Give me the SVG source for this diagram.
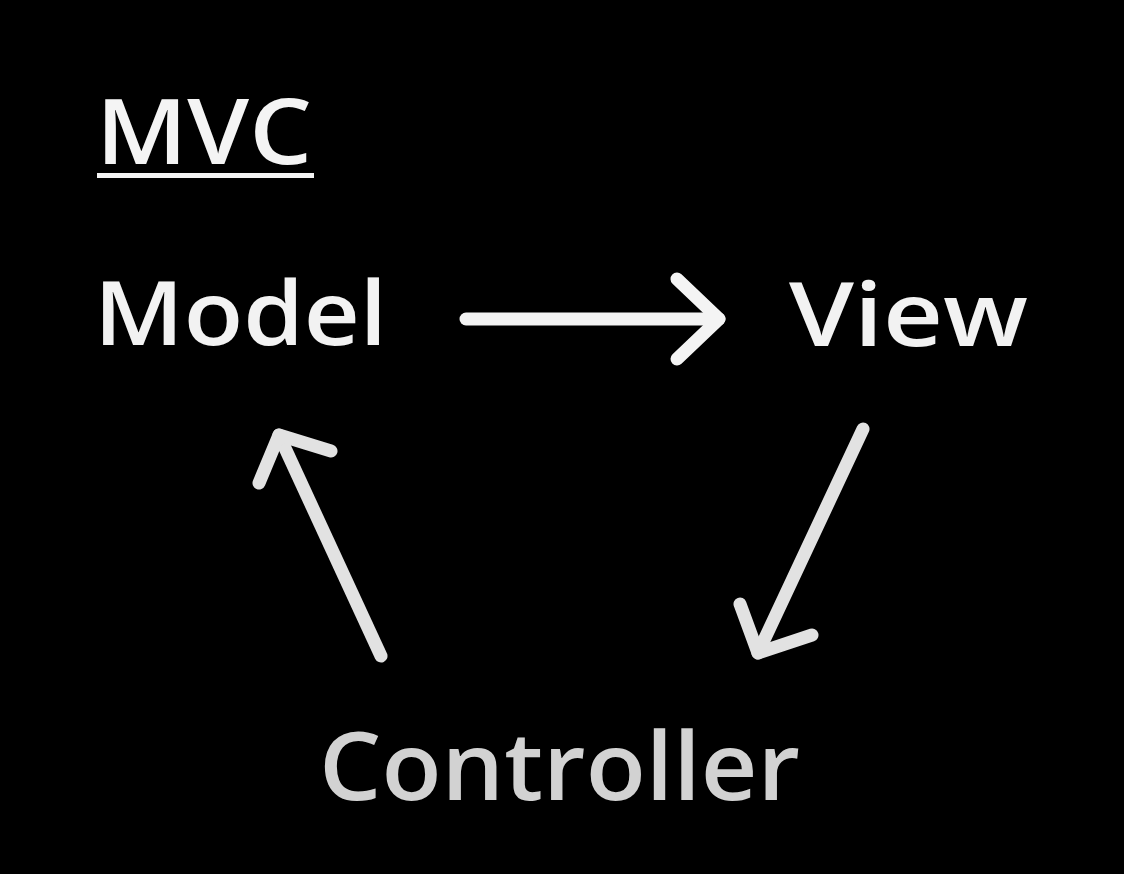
<svg xmlns="http://www.w3.org/2000/svg" width="1124" height="874" viewBox="0 0 1124 874">
<style>
.lbl{font-family:"Open Sans","Liberation Sans",sans-serif;font-weight:600;}
.arr{fill:none;stroke-width:13;stroke-linecap:round;stroke-linejoin:round;}
</style>
<rect x="0" y="0" width="1124" height="874" fill="#000"/>
<g id="title">
<text class="lbl" x="96" y="164" font-size="90" fill="#f4f4f4" textLength="216" lengthAdjust="spacingAndGlyphs">MVC</text>
<rect x="97" y="173" width="217" height="5" fill="#f4f4f4"/>
</g>
<g id="model">
<text class="lbl" x="94" y="345" font-size="88" fill="#f2f2f2" textLength="293" lengthAdjust="spacingAndGlyphs">Model</text>
</g>
<g id="view">
<text class="lbl" x="789" y="346" font-size="88" fill="#f2f2f2" textLength="239" lengthAdjust="spacingAndGlyphs">View</text>
</g>
<g id="controller">
<text class="lbl" x="319" y="800" font-size="95" fill="#d2d2d2" textLength="481" lengthAdjust="spacingAndGlyphs">Controller</text>
</g>
<g id="connectors">
<g stroke="#f4f4f4" class="arr">
<line x1="466" y1="319" x2="719" y2="319"/>
<polyline points="677,279 719,319 677,359"/>
</g>
<g stroke="#e2e2e2" class="arr">
<line x1="381" y1="656" x2="279" y2="435"/>
<polyline points="259,483 279,435 331,451"/>
</g>
<g stroke="#e2e2e2" class="arr">
<line x1="863" y1="429" x2="758" y2="653"/>
<polyline points="740,604 758,653 812,635"/>
</g>
</g>
</svg>
